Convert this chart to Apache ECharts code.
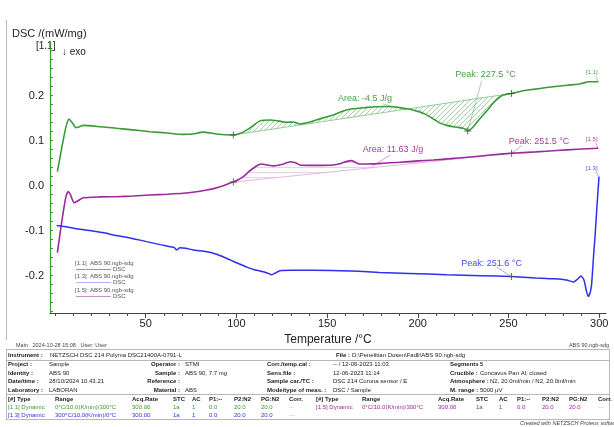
<!DOCTYPE html>
<html>
<head>
<meta charset="utf-8">
<script src="https://cdn.jsdelivr.net/npm/echarts@6/dist/echarts.min.js"></script>
<style>
html, body { margin: 0; padding: 0; background: #fff; }
#main { width: 614px; height: 427px; }
</style>
</head>
<body>
<div id="main"></div>
<script>
// segment [1.1] heating 0 -> 300 °C
const t11 = [1.3, 4, 6, 7.7, 9.5, 11.6, 13.5, 15.6, 25, 34, 43, 52.4, 62, 70.7, 76, 81.8, 86, 89, 94, 98.3,
  101, 103.8, 108, 113, 118.5, 123, 127.7, 131.4, 135, 140, 144, 149, 153.4, 157, 160.8, 164, 168, 172, 177.3,
  182, 186.5, 191, 195.7, 201, 204, 206.7, 209.5, 212.2, 216, 219.6, 223, 225, 226.5, 227.5, 229, 230.6, 233,
  236, 238.8, 241.5, 244, 247, 251.7, 257, 263.7, 271, 278.4, 284, 289.4, 292, 294, 297, 299.5];
const dsc11 = [0.031, 0.09, 0.13, 0.148, 0.14, 0.129, 0.131, 0.134, 0.131, 0.1275, 0.124, 0.12, 0.117, 0.114, 0.115, 0.119, 0.117, 0.115, 0.113, 0.1127,
  0.115, 0.119, 0.13, 0.144, 0.146, 0.144, 0.141, 0.1415, 0.137, 0.141, 0.146, 0.152, 0.157, 0.163, 0.168, 0.171, 0.172, 0.174, 0.1755,
  0.176, 0.1755, 0.173, 0.17, 0.164, 0.159, 0.153, 0.146, 0.139, 0.134, 0.131, 0.129, 0.1275, 0.125, 0.1215, 0.125, 0.131, 0.143,
  0.157, 0.17, 0.183, 0.193, 0.2015, 0.205, 0.21, 0.214, 0.218, 0.2215, 0.224, 0.226, 0.229, 0.231, 0.231, 0.231];

// segment [1.5] heating 0 -> 300 °C
const t15 = [1.3, 3, 4.5, 6, 7.3, 8.5, 10.5, 12.5, 15.6, 25, 34, 43, 52.4, 62, 70.7, 77, 83.6, 88, 92.8, 96, 98.3,
  101, 103.8, 106.5, 109.3, 112, 114, 117, 120.4, 125, 129.6, 131.5, 133.2, 135, 140, 145, 153.4, 158, 161, 163.5,
  165.5, 168, 175, 180.9, 190, 200, 208.5, 218, 226.9, 240, 251.7, 265, 276.6, 288, 299.5];
const dsc15 = [-0.149, -0.1, -0.06, -0.025, -0.013, -0.02, -0.038, -0.034, -0.027, -0.025, -0.0245, -0.023, -0.0207, -0.019, -0.017, -0.014, -0.0096, -0.006, 0.0, 0.005, 0.008,
  0.013, 0.02, 0.03, 0.0387, 0.046, 0.048, 0.046, 0.044, 0.047, 0.053, 0.052, 0.05, 0.046, 0.045, 0.045, 0.046, 0.05, 0.054, 0.0556,
  0.052, 0.048, 0.0485, 0.0498, 0.052, 0.055, 0.057, 0.06, 0.063, 0.068, 0.072, 0.075, 0.078, 0.081, 0.083];

// segment [1.3] cooling 300 -> 0 °C
const t13 = [0.9, 5, 13.8, 20, 28.5, 32.1, 40, 46.9, 50.5, 58, 65.2, 66.2, 67, 68.9, 72, 76.2, 82, 87.3, 92, 96.5,
  101, 105.7, 110, 113, 117, 119.5, 121.5, 124, 130, 142.4, 157, 170, 179, 195, 216, 235, 251.6, 265, 275, 282,
  285.7, 288, 290, 291.6, 293, 294, 295, 295.8, 297, 297.7, 299, 299.9];
const dsc13 = [-0.0885, -0.091, -0.097, -0.1, -0.106, -0.1096, -0.115, -0.121, -0.1244, -0.131, -0.137, -0.139, -0.143, -0.138, -0.139, -0.143, -0.146, -0.15, -0.157, -0.165,
  -0.173, -0.181, -0.187, -0.1896, -0.194, -0.198, -0.194, -0.189, -0.188, -0.188, -0.189, -0.191, -0.193, -0.195, -0.198, -0.2, -0.202, -0.205, -0.207, -0.2096,
  -0.214, -0.208, -0.2007, -0.2096, -0.235, -0.246, -0.238, -0.22, -0.15, -0.113, -0.032, 0.02];

// evaluation limits and peaks (temperatures present in the arrays above)
const limits11 = [98.3, 251.7];
const peak11 = 227.5;
const limits15 = [98.3, 251.7];
const peak15 = 251.7;
const peak13 = 251.6;

const xLabels = [50, 100, 150, 200, 250, 300];
const yLabels = [-0.2, -0.1, 0.0, 0.1, 0.2];

const GREEN = '#3a9a3a', PURPLE = '#9b2a9b', BLUE = '#2f2ff0';
const xMin = -2.76, xMax = 303.75, yMin = -0.283, yMax = 0.3193;

const val = (ts, vs, t) => vs[ts.indexOf(t)];
const pairs = (ts, vs) => ts.map((t, i) => [t, vs[i]]);

const xMinor = [];
for (let t = 0; t <= 300; t += 10) xMinor.push(t);
const yMinor = [];
for (let k = -14; k <= 15; k++) yMinor.push(+(k * 0.02).toFixed(2));

function hatch(color, kind) {
  const c = document.createElement('canvas');
  c.width = 5; c.height = 5;
  const g = c.getContext('2d');
  g.strokeStyle = color; g.lineWidth = 0.8;
  g.beginPath();
  if (kind === 'diag') {
    g.moveTo(-1, 6); g.lineTo(6, -1);
    g.moveTo(-1, 1); g.lineTo(1, -1);
    g.moveTo(4, 6); g.lineTo(6, 4);
  } else {
    g.moveTo(0, 2.5); g.lineTo(5, 2.5);
  }
  g.stroke();
  return c;
}

// polygon between curve and straight baseline
function areaSeries(ts, vs, lim, color, fillImg) {
  return {
    type: 'custom',
    silent: true,
    data: [[lim[0], val(ts, vs, lim[0])]],
    renderItem: function (params, api) {
      const pts = [];
      ts.forEach((t, i) => { if (t >= lim[0] && t <= lim[1]) pts.push(api.coord([t, vs[i]])); });
      const a = api.coord([lim[0], val(ts, vs, lim[0])]);
      const b = api.coord([lim[1], val(ts, vs, lim[1])]);
      return {
        type: 'group',
        children: [
          { type: 'polygon', shape: { points: pts.concat([b, a]) },
            style: { fill: { image: fillImg, repeat: 'repeat' }, stroke: null } },
          { type: 'line', shape: { x1: a[0], y1: a[1], x2: b[0], y2: b[1] },
            style: { stroke: color, lineWidth: 0.8 } }
        ]
      };
    },
    z: 1
  };
}

const markPts = [
  [limits11[0], val(t11, dsc11, limits11[0])],
  [limits11[1], val(t11, dsc11, limits11[1])],
  [peak11, val(t11, dsc11, peak11)],
  [limits15[0], val(t15, dsc15, limits15[0])],
  [limits15[1], val(t15, dsc15, limits15[1])],
  [peak13, val(t13, dsc13, peak13)]
];

// annotation texts: label centre, leader start, leader end (data coords)
const notes = [
  { text: 'Area: -4.5 J/g', color: '#48a048', size: 9, label: [170.9, 0.1927], from: [180.8, 0.1816], to: [193.9, 0.168] },
  { text: 'Peak: 227.5 °C', color: '#48a048', size: 9, label: [237.3, 0.246], from: [235.2, 0.233], to: [peak11, val(t11, dsc11, peak11)] },
  { text: 'Area: 11.63 J/g', color: '#a040a0', size: 9, label: [186.3, 0.0793], from: [184.7, 0.068], to: [174.6, 0.042] },
  { text: 'Peak: 251.5 °C', color: '#a040a0', size: 9, label: [266.8, 0.0978], from: [257.3, 0.089], to: [peak15, val(t15, dsc15, peak15)] },
  { text: 'Peak: 251.6 °C', color: '#4a4ae8', size: 9, label: [240.7, -0.1724], from: [243.5, -0.181], to: [peak13, val(t13, dsc13, peak13)] },
  { text: '[1.1]', color: '#48a048', size: 6, label: [295.9, 0.251], from: [298, 0.244], to: [299.5, 0.231] },
  { text: '[1.5]', color: '#a040a0', size: 6, label: [295.9, 0.103], from: [298, 0.096], to: [299.5, 0.083] },
  { text: '[1.3]', color: '#4a4ae8', size: 6, label: [295.9, 0.0387], from: [298, 0.032], to: [299.9, 0.02] }
];

const chart = echarts.init(document.getElementById('main'));

// header/table text
const T = [];
function txt(x, y, s, o) {
  o = o || {};
  T.push({ type: 'text', x: x, y: y, silent: true,
    style: { text: s, fontSize: o.size || 6, fontFamily: 'Liberation Sans, Arial, sans-serif',
      fontWeight: o.bold ? 'bold' : 'normal', fontStyle: o.italic ? 'italic' : 'normal',
      fill: o.color || '#222', align: o.align || 'left', verticalAlign: 'middle' } });
}
function rule(x1, y1, x2, y2) {
  T.push({ type: 'line', silent: true, shape: { x1: x1, y1: y1, x2: x2, y2: y2 }, style: { stroke: '#b8b8b8', lineWidth: 1 } });
}

// axis title and exo marker
txt(12, 34, 'DSC /(mW/mg)', { size: 11, color: '#222' });
txt(36, 46, '[1.1]', { size: 10 });
txt(62, 52, '↓ exo', { size: 10 });
rule(6.5, 20, 6.5, 340);

// legend
const legendRows = [
  ['[1.1]  ABS 90.ngb-sdg', '#6ab86a', 263],
  ['[1.3]  ABS 90.ngb-sdg', '#b4b4f4', 276],
  ['[1.5]  ABS 90.ngb-sdg', '#c890c8', 290]
];
legendRows.forEach(r => {
  txt(75, r[2], r[0], { size: 6, color: '#555' });
  T.push({ type: 'line', silent: true, shape: { x1: 76, y1: r[2] + 6.5, x2: 111, y2: r[2] + 6.5 }, style: { stroke: r[1], lineWidth: 1 } });
  txt(113, r[2] + 6.5, 'DSC', { size: 6, color: '#555' });
});

// footer
txt(16, 345, 'Main   2024-10-28 15:08   User: User', { size: 5.5, color: '#444' });
txt(609, 345, 'ABS 90.ngb-sdg', { size: 5.5, color: '#444', align: 'right' });

// info table
rule(6, 349.5, 610, 349.5);
rule(6, 360.5, 610, 360.5);
rule(6, 394.5, 610, 394.5);
rule(6, 419.5, 610, 419.5);
rule(6.5, 349, 6.5, 420);
rule(609.5, 349, 609.5, 420);
txt(8, 355, 'Instrument :', { bold: true });
txt(50, 355, 'NETZSCH DSC 214 Polyma DSC21400A-0791-L');
txt(336, 355, 'File :', { bold: true });
txt(352, 355, 'D:\\Penelitian Dosen\\Fadli\\ABS 90.ngb-sdg');

const infoRows = [
  ['Project :', 'Sample', 'Operator :', 'STMI', 'Corr./temp.cal :', '-- / 12-06-2023 11:03', 'Segments :', '5'],
  ['Identity :', 'ABS 90', 'Sample :', 'ABS 90, 7.7 mg', 'Sens.file :', '12-06-2023 11:14', 'Crucible :', 'Concavus Pan Al, closed'],
  ['Date/time :', '28/10/2024 10.43.21', 'Reference :', '', 'Sample car./TC :', 'DSC 214 Corona sensor / E', 'Atmosphere :', 'N2, 20.0ml/min / N2, 20.0ml/min'],
  ['Laboratory :', 'LABORAN', 'Material :', 'ABS', 'Mode/type of meas. :', 'DSC / Sample', 'M. range :', '5000 µV']
];
infoRows.forEach((r, i) => {
  const y = 364.5 + i * 8.6;
  txt(8, y, r[0], { bold: true });
  txt(49, y, r[1]);
  txt(180, y, r[2], { bold: true, align: 'right' });
  txt(185, y, r[3]);
  txt(267, y, r[4], { bold: true });
  txt(333, y, r[5]);
  txt(450, y, r[6], { bold: true });
  txt(i === 2 ? 490 : 480, y, r[7]);
});

const colX = [8, 55, 132, 173, 192, 209, 234, 261, 289];
const colX2 = [316, 362, 438, 476, 499, 517, 542, 569, 598];
const head = ['[#] Type', 'Range', 'Acq.Rate', 'STC', 'AC', 'P1:--', 'P2:N2', 'PG:N2', 'Corr.'];
const seg11 = ['[1.1] Dynamic', '0°C/10.0(K/min)/300°C', '300.00', '1a', '1', '0.0', '20.0', '20.0', '···'];
const seg13 = ['[1.3] Dynamic', '300°C/10.0(K/min)/0°C', '300.00', '1a', '1', '0.0', '20.0', '20.0', '···'];
const seg15 = ['[1.5] Dynamic', '0°C/10.0(K/min)/300°C', '300.00', '1a', '1', '0.0', '20.0', '20.0', '···'];
head.forEach((h, i) => { txt(colX[i], 399.5, h, { bold: true }); txt(colX2[i], 399.5, h, { bold: true }); });
seg11.forEach((s, i) => txt(colX[i], 407.5, s, { color: GREEN }));
seg13.forEach((s, i) => txt(colX[i], 415, s, { color: BLUE }));
seg15.forEach((s, i) => txt(colX2[i], 407.5, s, { color: PURPLE }));
txt(520, 423.5, 'Created with NETZSCH Proteus software', { size: 5.5, italic: true, color: '#444' });

const option = {
  animation: false,
  grid: { left: 50, right: 8, top: 42, bottom: 114 },
  xAxis: [
    {
      type: 'value', min: xMin, max: xMax,
      name: 'Temperature /°C', nameLocation: 'middle', nameGap: 20,
      nameTextStyle: { fontSize: 12, color: '#222', fontFamily: 'Liberation Sans, Arial' },
      axisLine: { onZero: false, lineStyle: { color: '#444', width: 1 } },
      axisTick: { customValues: xLabels, length: 5, lineStyle: { color: '#444' } },
      axisLabel: { customValues: xLabels, margin: 5, fontSize: 11, color: '#222', fontFamily: 'Liberation Sans, Arial' },
      splitLine: { show: false }
    },
    {
      type: 'value', min: xMin, max: xMax, position: 'bottom',
      axisLine: { show: false, onZero: false },
      axisTick: { customValues: xMinor, length: 3, lineStyle: { color: '#444' } },
      axisLabel: { show: false },
      splitLine: { show: false }
    }
  ],
  yAxis: [
    {
      type: 'value', min: yMin, max: yMax,
      axisLine: { show: true, onZero: false, lineStyle: { color: GREEN, width: 1.2 } },
      axisTick: { show: true, customValues: yMinor, inside: true, length: 3, lineStyle: { color: GREEN } },
      axisLabel: { customValues: yLabels, formatter: v => v.toFixed(1), margin: 6, fontSize: 11, color: '#222', fontFamily: 'Liberation Sans, Arial' },
      splitLine: { show: false }
    }
  ],
  series: [
    areaSeries(t11, dsc11, limits11, '#7cc07c', hatch('#8cc88c', 'diag')),
    areaSeries(t15, dsc15, limits15, '#d8a8d8', hatch('#e6c4e6', 'horiz')),
    { type: 'line', data: pairs(t11, dsc11), showSymbol: false, smooth: 0.2, lineStyle: { color: GREEN, width: 1.6 }, z: 3 },
    { type: 'line', data: pairs(t15, dsc15), showSymbol: false, smooth: 0.2, lineStyle: { color: PURPLE, width: 1.6 }, z: 3 },
    { type: 'line', data: pairs(t13, dsc13), showSymbol: false, smooth: 0.2, lineStyle: { color: BLUE, width: 1.5 }, z: 3 },
    {
      type: 'custom', silent: true, data: markPts, z: 4,
      renderItem: function (params, api) {
        const p = api.coord([api.value(0), api.value(1)]);
        return { type: 'group', children: [
          { type: 'line', shape: { x1: p[0] - 3.5, y1: p[1], x2: p[0] + 3.5, y2: p[1] }, style: { stroke: '#555', lineWidth: 0.9 } },
          { type: 'line', shape: { x1: p[0], y1: p[1] - 3.5, x2: p[0], y2: p[1] + 3.5 }, style: { stroke: '#555', lineWidth: 0.9 } }
        ] };
      }
    },
    {
      type: 'custom', silent: true, data: notes.map(n => n.label), z: 5,
      renderItem: function (params, api) {
        const n = notes[params.dataIndex];
        const c = api.coord(n.label), f = api.coord(n.from), e = api.coord(n.to);
        return { type: 'group', children: [
          { type: 'line', shape: { x1: f[0], y1: f[1], x2: e[0], y2: e[1] }, style: { stroke: n.color, lineWidth: 0.6, opacity: 0.8 } },
          { type: 'text', x: c[0], y: c[1], style: { text: n.text, fill: n.color, fontSize: n.size,
            fontFamily: 'Liberation Sans, Arial, sans-serif', align: 'center', verticalAlign: 'middle' } }
        ] };
      }
    }
  ],
  graphic: { elements: T }
};

chart.setOption(option);
</script>
</body>
</html>
